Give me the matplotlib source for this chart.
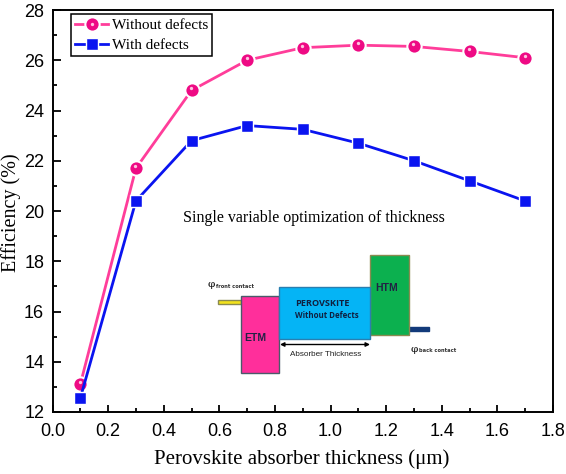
import matplotlib
matplotlib.use("Agg")
import matplotlib.pyplot as plt
from matplotlib.lines import Line2D
from matplotlib.patches import Rectangle
from matplotlib.ticker import MultipleLocator
from matplotlib.transforms import offset_copy

W, H = 566, 474
SERIF = "Liberation Serif"
SANS = "Liberation Sans"

thickness = [0.1, 0.3, 0.5, 0.7, 0.9, 1.1, 1.3, 1.5, 1.7]
without_defects = [13.1, 21.7, 24.8, 26.0, 26.5, 26.6, 26.55, 26.35, 26.1]
with_defects = [12.55, 20.4, 22.8, 23.4, 23.25, 22.7, 22.0, 21.2, 20.4]

PINK = "#ff3d9a"
BLUE = "#0a14f0"


def fx(px):
    return px / W


def fy(py):
    return 1 - py / H


fig = plt.figure(figsize=(W / 100, H / 100), dpi=100)
ax = fig.add_axes([fx(52.5), fy(412), fx(553 - 52.5), (412 - 10) / H])

ax.plot(thickness, without_defects, color=PINK, lw=2.0, marker="o", ms=10.3,
        mfc="#ee0a84", mec="white", mew=1.5, label="Without defects", zorder=3)
# little highlight on the pink spheres, a bit above centre
shifted = offset_copy(ax.transData, fig=fig, x=-0.5, y=2, units="dots")
ax.plot(thickness, without_defects, ls="none", marker="o", ms=2.4, mfc="#ffc4e0", mec="none",
        transform=shifted, zorder=4)
ax.plot(thickness, with_defects, color=BLUE, lw=2.0, marker="s", ms=8.2,
        mfc=BLUE, mec="white", mew=1.0, label="With defects", zorder=3)

ax.set_xlim(0, 1.8)
ax.set_ylim(12, 28)
ax.xaxis.set_major_locator(MultipleLocator(0.2))
ax.xaxis.set_minor_locator(MultipleLocator(0.1))
ax.yaxis.set_major_locator(MultipleLocator(2))
ax.yaxis.set_minor_locator(MultipleLocator(1))
ax.tick_params(which="major", direction="in", length=5.4, width=1.3, labelsize=13, pad=6)
ax.tick_params(which="minor", direction="in", length=2.6, width=1.3)
ax.tick_params(axis="x", pad=8)
for label in ax.get_xticklabels() + ax.get_yticklabels():
    label.set_family(SANS)
for s in ax.spines.values():
    s.set_linewidth(1.4)

fig.text(fx(302), fy(459), "Perovskite absorber thickness (\u03bcm)", family=SERIF, fontsize=15,
         ha="center", va="center")
fig.text(fx(11), fy(213), "Efficiency (%)", family=SERIF, fontsize=14.5, rotation=90,
         ha="center", va="center")

ax.legend(loc="upper left", bbox_to_anchor=(0.037, 0.989), prop={"family": SERIF, "size": 11},
          frameon=True, fancybox=False, edgecolor="black", framealpha=1, borderpad=0.25,
          labelspacing=0.42, handlelength=2.2, handletextpad=0.2, borderaxespad=0)
ax.get_legend().get_frame().set_linewidth(1.1)
fig.add_artist(Line2D([fx(91.5)], [fy(23.5)], ls="none", marker="o", ms=2.4, mfc="#ffc4e0", mec="none",
                      transform=fig.transFigure, zorder=8))

fig.text(fx(183), fy(218), "Single variable optimization of thickness", family=SERIF,
         fontsize=11.5, va="center", ha="left")


def box(x0, y0, x1, y1, color, edge="#4a5a6a", lw=1.0):
    # pixel box with a soft shadow, like the pasted diagram
    fig.add_artist(Rectangle((fx(x0 + 1), fy(y1 + 1)), fx(x1 - x0), (y1 - y0) / H,
                             transform=fig.transFigure, fc="#999999", ec="none", alpha=0.6, zorder=5))
    fig.add_artist(Rectangle((fx(x0), fy(y1)), fx(x1 - x0), (y1 - y0) / H,
                             transform=fig.transFigure, fc=color, ec=edge, lw=lw, zorder=6))


box(218, 300, 241, 304, "#f2e21c", edge="#8a8a50")
box(409, 327, 429, 331, "#123a7a", edge="#123a7a")
box(241, 296, 279, 373, "#ff2f9b")
box(370, 255, 409, 335, "#0cb04f", edge="#8a8a50")
box(279, 287, 370, 339, "#05b4f5", edge="#2a7fb0")

fig.text(fx(255), fy(338), "ETM", family=SANS, fontsize=7.5, weight="bold", color="#222244",
         ha="center", va="center", zorder=7)
fig.text(fx(295), fy(303.5), "PEROVSKITE", family="Open Sans", fontsize=6.6, weight="bold", color="#102040",
         ha="left", va="center", zorder=7)
fig.text(fx(295), fy(315.5), "Without Defects", family="Open Sans", fontsize=5.7, weight="bold", color="#102040",
         ha="left", va="center", zorder=7)
fig.text(fx(387), fy(288), "HTM", family=SANS, fontsize=7.5, weight="bold", color="#222244",
         ha="center", va="center", zorder=7)
fig.text(fx(326), fy(355), "Absorber Thickness", family=SANS, fontsize=5.9, color="#222222",
         ha="center", va="center", zorder=7)
ax.annotate("", xy=fig.transFigure.transform((fx(370), fy(344.5))), xycoords="figure pixels",
            xytext=fig.transFigure.transform((fx(280), fy(344.5))), textcoords="figure pixels",
            arrowprops=dict(arrowstyle="<|-|>", color="black", lw=1, mutation_scale=6, shrinkA=0, shrinkB=0),
            zorder=7)

fig.text(fx(211), fy(284.5), "\u03c6", family="DejaVu Serif", fontsize=7.5, ha="center", va="center", zorder=7)
fig.text(fx(216), fy(286), "front contact", family="DejaVu Sans", fontsize=3.7, weight="bold",
         color="#333333", ha="left", va="center", zorder=7)
fig.text(fx(414), fy(349), "\u03c6", family="DejaVu Serif", fontsize=7.5, ha="center", va="center", zorder=7)
fig.text(fx(419), fy(351), "back contact", family="DejaVu Sans", fontsize=3.7, weight="bold",
         color="#333333", ha="left", va="center", zorder=7)

fig.savefig("out.png", dpi=100)
